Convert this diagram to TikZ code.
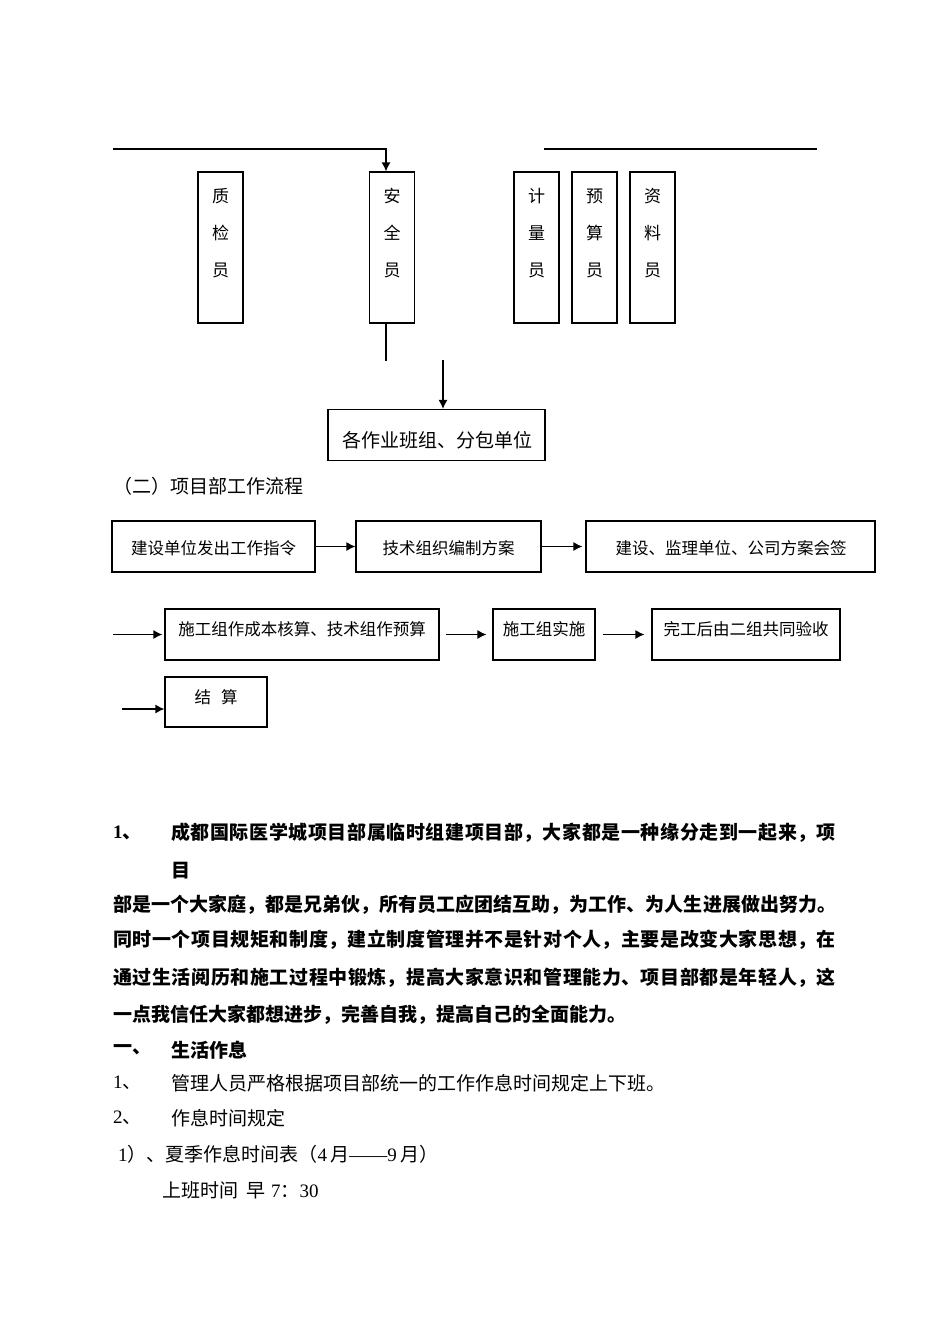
\documentclass[tikz,border=0pt]{standalone}
\usepackage{fontspec}
\setmainfont{Liberation Serif}
\newfontfamily\cjk{Noto Sans CJK SC}
\usetikzlibrary{arrows.meta}
\usetikzlibrary{calc}
\tikzstyle{StaffBox}=[rectangle, draw=black, line width=1.2pt, minimum width=45pt, minimum height=151pt, inner sep=0pt]
\tikzstyle{StepBox}=[rectangle, draw=black, line width=1.2pt, minimum height=51pt, inner sep=0pt]
\tikzstyle{StaffText}=[inner sep=0pt, align=center, font=\cjk\fontsize{17}{37}\selectfont]
\tikzstyle{StepText}=[inner sep=0pt, font=\cjk\fontsize{16.5}{20}\selectfont]
\tikzstyle{BodyText}=[inner sep=0pt, anchor=west, font=\cjk\fontsize{19}{19}\selectfont]
\tikzstyle{BoldText}=[BodyText, font=\cjk\bfseries\fontsize{19}{19}\selectfont]
\tikzstyle{FlowLine}=[line width=1.2pt]
\tikzstyle{FlowEdge}=[FlowLine, -{Latex[length=9pt,width=9pt]}]
\newcommand{\latn}[1]{{\rmfamily #1}}
% stretch a line of CJK characters to the full text width
\newcommand{\spreadline}{\noindent\XeTeXlinebreaklocale "zh"\XeTeXlinebreakskip=0pt plus 1fil\parfillskip=0pt\relax}

\begin{document}
\begin{tikzpicture}[x=1pt, y=-1pt]
\useasboundingbox (0,0) rectangle (950,1344);

% staff boxes
\node[StaffBox](zjy) at (220.5,247.5) {};
\node[StaffBox](aqy) at (392,247.5) {};
\node[StaffBox](jly) at (536.5,247.5) {};
\node[StaffBox](ysy) at (594.5,247.5) {};
\node[StaffBox](zly) at (652.5,247.5) {};
\node[StaffText] at (220.5,233) {质\\检\\员};
\node[StaffText] at (392,233) {安\\全\\员};
\node[StaffText] at (536.5,233) {计\\量\\员};
\node[StaffText] at (594.5,233) {预\\算\\员};
\node[StaffText] at (652.5,233) {资\\料\\员};

\node[StepBox, minimum width=217pt](zybz) at (436.5,435) {};
\node[StepText, font=\cjk\fontsize{19}{19}\selectfont] at (437,440) {各作业班组、分包单位};

\coordinate (TopL) at (113,149);
\coordinate (TopR) at (386,149);
\coordinate (RightL) at (544,149);
\coordinate (RightR) at (817,149);
\coordinate (MidArr) at (443,360);
\draw[FlowEdge](TopL) -- (TopR) -- (TopR |- aqy.north);
\draw[FlowLine](RightL) -- (RightR);
\draw[FlowLine](TopR |- aqy.south) -- ++(0,37);
\draw[FlowEdge](MidArr) -- (MidArr |- zybz.north);

% work flow
\node[BodyText] at (113,486) {（二）项目部工作流程};

\node[StepBox, minimum width=203pt](zlxd) at (213.5,546.5) {};
\node[StepBox, minimum width=185pt](bzfa) at (448.5,546.5) {};
\node[StepBox, minimum width=289pt](fahq) at (730.5,546.5) {};
\node[StepText] at (213.5,548) {建设单位发出工作指令};
\node[StepText] at (448.5,548) {技术组织编制方案};
\node[StepText] at (731,548) {建设、监理单位、公司方案会签};

\node[StepBox, minimum width=274pt](cbhs) at (302,634.5) {};
\node[StepBox, minimum width=102pt](sgss) at (544,634.5) {};
\node[StepBox, minimum width=188pt](gtys) at (746,634.5) {};
\node[StepText] at (302,629) {施工组作成本核算、技术组作预算};
\node[StepText] at (544,629) {施工组实施};
\node[StepText] at (746,629) {完工后由二组共同验收};

\node[StepBox, minimum width=102pt, minimum height=50pt](js) at (216,702) {};
\node[StepText] at (216,697) {结\hspace{10pt}算};

\coordinate (RowB) at (113,634.5);
\coordinate (RowC) at (122,709);
\draw[FlowEdge](zlxd) -- (bzfa);
\draw[FlowEdge, shorten >=3pt](bzfa) -- (fahq);
\draw[FlowEdge, shorten >=2pt](RowB) -- (cbhs.west);
\draw[FlowEdge, shorten <=6pt, shorten >=6pt](cbhs) -- (sgss);
\draw[FlowEdge, shorten <=7pt, shorten >=7pt](sgss) -- (gtys);
\draw[FlowEdge](RowC) -- (RowC -| js.west);

% text
\node[BoldText] at (113,833) {\latn{1}、};
\node[BoldText, text width=665pt, align=justify] at (171,833) {\spreadline 成都国际医学城项目部属临时组建项目部，大家都是一种缘分走到一起来，项};
\node[BoldText] at (171,871) {目};
\node[BoldText, text width=723pt, align=justify] at (113,905) {\spreadline 部是一个大家庭，都是兄弟伙，所有员工应团结互助，为工作、为人生进展做出努力。};
\node[BoldText, text width=723pt, align=justify] at (113,940) {\spreadline 同时一个项目规矩和制度，建立制度管理并不是针对个人，主要是改变大家思想，在};
\node[BoldText, text width=723pt, align=justify] at (113,978) {\spreadline 通过生活阅历和施工过程中锻炼，提高大家意识和管理能力、项目部都是年轻人，这};
\node[BoldText] at (113,1015) {一点我信任大家都想进步，完善自我，提高自己的全面能力。};
\node[BoldText] at (113,1050) {一、};
\node[BoldText] at (171,1050) {生活作息};
\node[BodyText] at (113,1083) {\latn{1}、};
\node[BodyText] at (171,1083) {管理人员严格根据项目部统一的工作作息时间规定上下班。};
\node[BodyText] at (113,1118) {\latn{2}、};
\node[BodyText] at (171,1118) {作息时间规定};
\node[BodyText] at (118,1154) {\latn{1}）、夏季作息时间表（\latn{4}\,月\latn{——}\latn{9}\,月）};
\node[BodyText] at (162,1190) {上班时间\hspace{8pt}早\hspace{6pt}\latn{7}：\latn{30}};
\end{tikzpicture}
\end{document}
